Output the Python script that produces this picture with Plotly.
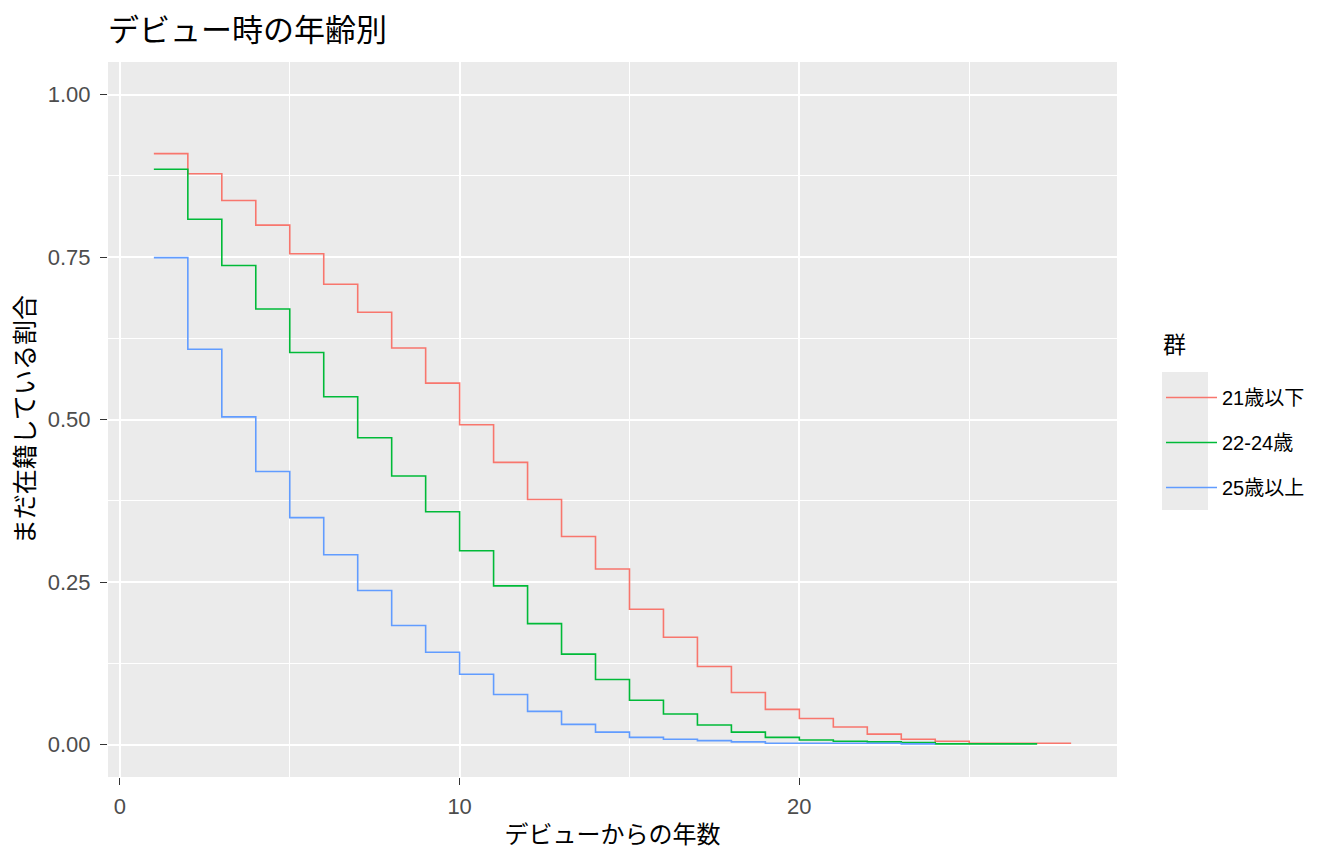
import plotly.graph_objects as go

# data
years_le21 = list(range(1, 29))
surv_le21 = [0.909, 0.878, 0.837, 0.799, 0.755, 0.708, 0.665, 0.610, 0.556, 0.492,
             0.434, 0.377, 0.320, 0.270, 0.208, 0.165, 0.120, 0.080, 0.054, 0.040,
             0.027, 0.016, 0.008, 0.005, 0.002, 0.002, 0.002, 0.002]
years_22_24 = list(range(1, 28))
surv_22_24 = [0.885, 0.808, 0.737, 0.670, 0.603, 0.535, 0.472, 0.413, 0.358, 0.298,
              0.244, 0.186, 0.139, 0.100, 0.068, 0.047, 0.030, 0.019, 0.011, 0.007,
              0.005, 0.004, 0.003, 0.001, 0.001, 0.001, 0.001]
years_ge25 = list(range(1, 25))
surv_ge25 = [0.749, 0.608, 0.504, 0.420, 0.349, 0.292, 0.237, 0.183, 0.142, 0.108,
             0.077, 0.051, 0.031, 0.019, 0.011, 0.008, 0.006, 0.004, 0.002, 0.002,
             0.002, 0.002, 0.001, 0.001]
group_names = ["21歳以下", "22-24歳", "25歳以上"]
colors = ["#F8766D", "#00BA38", "#619CFF"]

x_ticks = [0, 10, 20]
y_ticks = [0.0, 0.25, 0.5, 0.75, 1.0]
y_tick_labels = ["0.00", "0.25", "0.50", "0.75", "1.00"]

FONT = "Liberation Sans, Arial, Noto Sans CJK JP, sans-serif"

fig = go.Figure()
series = [(years_le21, surv_le21), (years_22_24, surv_22_24), (years_ge25, surv_ge25)]
for (xs, ys), name, col in zip(series, group_names, colors):
    fig.add_trace(go.Scatter(
        x=xs, y=ys, mode="lines", line=dict(shape="hv", color=col, width=1.6),
        name=name, legendgroup=name,
    ))

# the page body adds an 8px offset
OFF = 8
W, H = 1344 - 2 * OFF, 864 - 2 * OFF
ml, mt = 108 - OFF, 62 - OFF
mr = W - (1117 - OFF)
mb = H - (777 - OFF)
pw = W - ml - mr
ph = H - mt - mb


def px_x(page_x):
    return (page_x - OFF - ml) / pw


def px_y(page_y):
    return (H - mb - (page_y - OFF)) / ph


fig.update_layout(
    width=W, height=H,
    margin=dict(l=ml, r=mr, t=mt, b=mb, autoexpand=False),
    paper_bgcolor="white",
    plot_bgcolor="#EBEBEB",
    font=dict(family=FONT, color="black"),
    title=dict(text="デビュー時の年齢別", x=0, xref="paper", xanchor="left",
               y=1 - (30 - OFF) / H, yref="container", yanchor="middle",
               font=dict(size=31, color="black")),
    xaxis=dict(
        range=[-0.35, 29.35], tickvals=x_ticks, ticktext=[str(v) for v in x_ticks],
        showgrid=True, gridcolor="white", gridwidth=1.5, zeroline=False,
        ticks="outside", ticklen=7, tickwidth=1.3, tickcolor="#333333",
        ticklabelstandoff=3,
        tickfont=dict(size=22, color="#4D4D4D"),
        minor=dict(dtick=5, tick0=0, showgrid=True, gridcolor="white", gridwidth=0.7, ticks=""),
        title=dict(text="デビューからの年数", font=dict(size=24, color="black"), standoff=7),
        showline=False,
    ),
    yaxis=dict(
        range=[-0.05, 1.05], tickvals=y_ticks, ticktext=y_tick_labels,
        showgrid=True, gridcolor="white", gridwidth=1.5, zeroline=False,
        ticks="outside", ticklen=7, tickwidth=1.3, tickcolor="#333333",
        ticklabelstandoff=5,
        tickfont=dict(size=22, color="#4D4D4D"),
        minor=dict(dtick=0.125, tick0=0, showgrid=True, gridcolor="white", gridwidth=0.7, ticks=""),
        title=dict(text="まだ在籍している割合", font=dict(size=25, color="black"), standoff=6),
        showline=False,
    ),
    legend=dict(
        x=px_x(1161), xanchor="left",
        y=px_y(378), yanchor="top",
        font=dict(size=20, color="black"),
        bgcolor="rgba(0,0,0,0)", borderwidth=0,
        tracegroupgap=16, itemwidth=51,
    ),
    annotations=[dict(
        text="群", xref="paper", yref="paper", x=px_x(1161), y=px_y(345),
        xanchor="left", yanchor="middle", showarrow=False,
        font=dict(size=23, color="black"),
    )],
    shapes=[dict(
        type="rect", xref="paper", yref="paper", layer="below",
        x0=px_x(1162), x1=px_x(1208),
        y0=px_y(510), y1=px_y(372),
        fillcolor="#EBEBEB", line=dict(width=0),
    )],
)

fig.write_html("out.html")
